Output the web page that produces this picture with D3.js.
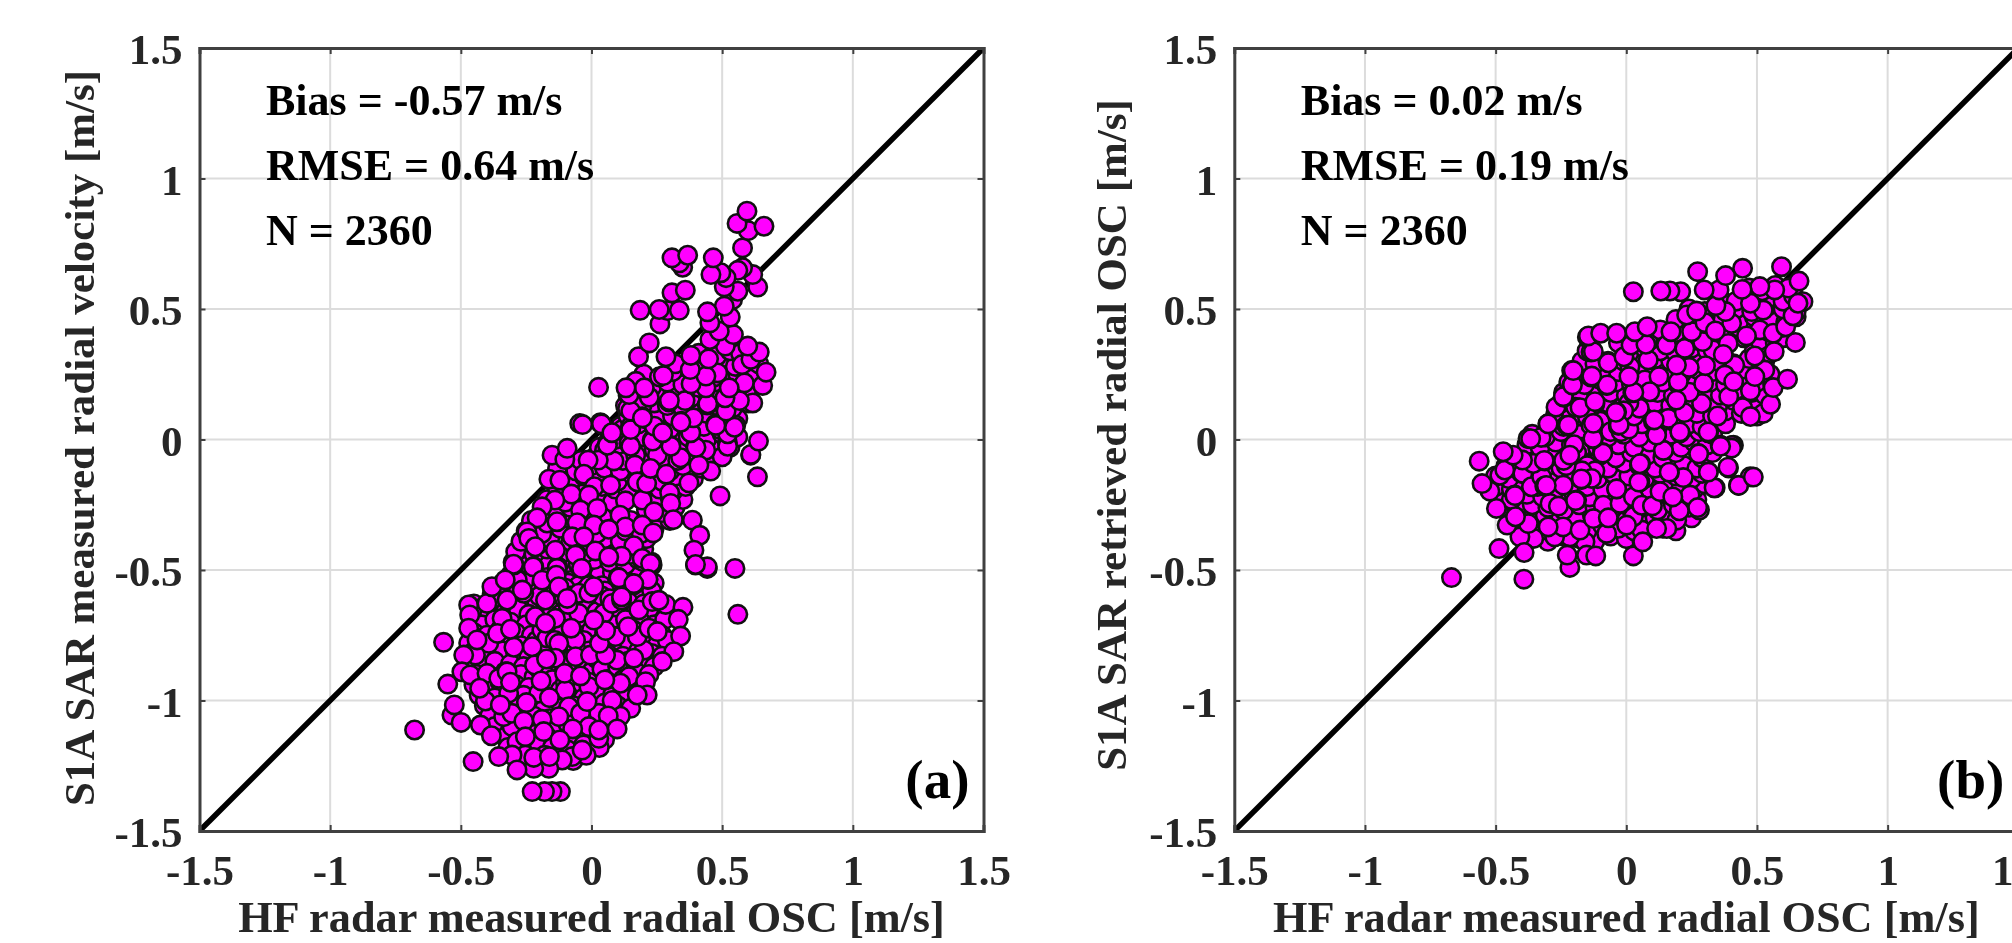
<!DOCTYPE html>
<html>
<head>
<meta charset="utf-8">
<script src="https://d3js.org/d3.v7.min.js"></script>
<style>
  html, body { margin: 0; padding: 0; background: #fff; overflow: hidden; }
  svg { filter: blur(0.6px); }
  text { font-family: "Liberation Serif", serif; font-weight: bold; }
</style>
</head>
<body>
<div id="chart"></div>
<script>
// values: [HF radar OSC, SAR value]
const ticks = [-1.5, -1, -0.5, 0, 0.5, 1, 1.5];
const statsA = ["Bias = -0.57 m/s", "RMSE = 0.64 m/s", "N = 2360"];
const statsB = ["Bias = 0.02 m/s", "RMSE = 0.19 m/s", "N = 2360"];

// points mostly hidden under others in the lower cluster of panel a
const blobA = [
[-0.31,-0.52],[-0.26,-0.51],[-0.2,-0.53],[-0.17,-0.52],[-0.07,-0.51],[-0.02,-0.53],[0.03,-0.52],[0.08,-0.51],[0.13,-0.53],[0.18,-0.52],
[-0.34,-0.55],[-0.3,-0.56],[-0.23,-0.54],[-0.19,-0.55],[-0.15,-0.56],[-0.08,-0.54],[-0.02,-0.55],[0.04,-0.56],[0.1,-0.54],[0.15,-0.55],[0.2,-0.56],[0.24,-0.55],
[-0.38,-0.59],[-0.33,-0.6],[-0.28,-0.58],[-0.21,-0.59],[-0.17,-0.6],[-0.13,-0.58],[-0.06,-0.59],[0,-0.6],[0.05,-0.58],[0.12,-0.59],[0.18,-0.6],[0.23,-0.58],
[-0.45,-0.63],[-0.41,-0.64],[-0.36,-0.62],[-0.31,-0.63],[-0.26,-0.64],[-0.21,-0.62],[-0.14,-0.63],[-0.08,-0.64],[-0.02,-0.62],[0.03,-0.63],[0.08,-0.64],[0.14,-0.62],[0.2,-0.63],[0.26,-0.64],
[-0.44,-0.66],[-0.39,-0.67],[-0.33,-0.66],[-0.28,-0.65],[-0.24,-0.67],[-0.18,-0.66],[-0.12,-0.65],[-0.06,-0.67],[0.01,-0.66],[0.06,-0.65],[0.11,-0.67],[0.17,-0.66],[0.22,-0.65],
[-0.46,-0.7],[-0.42,-0.71],[-0.37,-0.69],[-0.31,-0.7],[-0.25,-0.71],[-0.2,-0.69],[-0.15,-0.7],[-0.09,-0.71],[-0.04,-0.69],[0.02,-0.7],[0.08,-0.71],[0.13,-0.69],[0.19,-0.7],[0.24,-0.71],[0.28,-0.69],
[-0.45,-0.74],[-0.4,-0.75],[-0.35,-0.73],[-0.29,-0.74],[-0.23,-0.75],[-0.17,-0.73],[-0.11,-0.74],[-0.05,-0.75],[0,-0.73],[0.05,-0.74],[0.11,-0.75],[0.16,-0.73],[0.21,-0.74],[0.27,-0.75],
[-0.47,-0.78],[-0.42,-0.79],[-0.36,-0.77],[-0.31,-0.78],[-0.27,-0.79],[-0.21,-0.77],[-0.16,-0.78],[-0.09,-0.79],[-0.03,-0.77],[0.03,-0.78],[0.09,-0.79],[0.14,-0.77],[0.2,-0.78],[0.25,-0.79],[0.29,-0.77],
[-0.46,-0.82],[-0.4,-0.83],[-0.34,-0.81],[-0.29,-0.82],[-0.24,-0.83],[-0.18,-0.81],[-0.12,-0.82],[-0.07,-0.83],[-0.01,-0.81],[0.06,-0.82],[0.12,-0.83],[0.18,-0.81],[0.23,-0.82],[0.27,-0.83],
[-0.47,-0.86],[-0.42,-0.87],[-0.37,-0.85],[-0.31,-0.86],[-0.26,-0.87],[-0.2,-0.85],[-0.14,-0.86],[-0.09,-0.87],[-0.03,-0.85],[0.02,-0.86],[0.08,-0.87],[0.14,-0.85],[0.19,-0.86],[0.24,-0.87],
[-0.44,-0.9],[-0.38,-0.91],[-0.33,-0.89],[-0.27,-0.9],[-0.22,-0.91],[-0.16,-0.89],[-0.11,-0.9],[-0.05,-0.91],[0,-0.89],[0.06,-0.9],[0.11,-0.91],[0.17,-0.89],[0.22,-0.9],
[-0.45,-0.94],[-0.4,-0.95],[-0.35,-0.93],[-0.29,-0.94],[-0.24,-0.95],[-0.18,-0.93],[-0.13,-0.94],[-0.07,-0.95],[-0.01,-0.93],[0.05,-0.94],[0.09,-0.95],[0.15,-0.93],[0.2,-0.94],
[-0.43,-0.98],[-0.37,-0.99],[-0.31,-0.97],[-0.26,-0.98],[-0.2,-0.99],[-0.14,-0.97],[-0.09,-0.98],[-0.03,-0.99],[0.03,-0.97],[0.08,-0.98],[0.13,-0.99],[0.18,-0.97],
[-0.41,-1.02],[-0.36,-1.03],[-0.3,-1.01],[-0.24,-1.02],[-0.18,-1.03],[-0.12,-1.01],[-0.07,-1.02],[-0.01,-1.03],[0.05,-1.01],[0.1,-1.02],[0.15,-1.03],
[-0.39,-1.06],[-0.33,-1.07],[-0.27,-1.05],[-0.22,-1.06],[-0.16,-1.07],[-0.1,-1.05],[-0.05,-1.06],[0.01,-1.07],[0.06,-1.05],[0.11,-1.06],
[-0.37,-1.1],[-0.31,-1.11],[-0.26,-1.09],[-0.2,-1.1],[-0.14,-1.11],[-0.09,-1.09],[-0.03,-1.1],[0.03,-1.11],[0.07,-1.09],
[-0.33,-1.14],[-0.28,-1.15],[-0.22,-1.13],[-0.17,-1.14],[-0.11,-1.15],[-0.06,-1.13],[0,-1.14],[0.05,-1.15],
[-0.32,-1.18],[-0.26,-1.19],[-0.2,-1.17],[-0.15,-1.18],[-0.09,-1.19],[-0.03,-1.17],[0.03,-1.18],
[-0.29,-1.22],[-0.24,-1.23],[-0.18,-1.21],[-0.13,-1.22],[-0.07,-1.23],[-0.02,-1.21],
[-0.13,-0.57],[-0.14,-0.55],[-0.12,-0.53],[-0.11,-0.59],[-0.09,-0.6],[-0.16,-0.57],[-0.09,-0.55],[-0.07,-0.58],[-0.05,-0.56],[-0.04,-0.6]
];
// tightly stacked points that make the dark patches in panel a
const darkA = [
[-0.15,-0.6],[-0.14,-0.59],[-0.13,-0.61],[-0.12,-0.56],[-0.1,-0.57],[-0.11,-0.62],[-0.08,-0.6],[-0.06,-0.62],[-0.03,-0.58],[-0.02,-0.59],
[-0.01,-0.61],[0,-0.57],[-0.01,-0.56],[0.01,-0.59],[0.02,-0.62],[-0.17,-0.63],[-0.15,-0.66],[-0.12,-0.67],[-0.09,-0.66],[-0.2,-0.6],
[-0.05,-0.65],[-0.03,-0.64],[0.02,-0.66],[0.04,-0.6],[0.07,-0.61],[-0.19,-0.73],[-0.17,-0.76],[-0.14,-0.77],[-0.08,-0.77],[-0.06,-0.8],
[-0.2,-0.88],[-0.18,-0.9],[-0.15,-0.92],[-0.12,-0.96],[-0.1,-0.93],[0.02,-0.84],[0.04,-0.88],[0.06,-0.92],[0.1,-0.87],[0.12,-0.92]
];
// hidden points in the ridge of panel a
const ridgeA = [
[-0.3,-0.47],[-0.24,-0.48],[-0.18,-0.46],[-0.12,-0.47],[-0.05,-0.48],[0.01,-0.46],[0.07,-0.47],[0.13,-0.48],[0.18,-0.46],[0.23,-0.47],
[-0.29,-0.43],[-0.22,-0.44],[-0.17,-0.42],[-0.1,-0.43],[-0.03,-0.44],[0.03,-0.42],[0.1,-0.43],[0.15,-0.44],[0.2,-0.42],
[-0.27,-0.39],[-0.2,-0.4],[-0.16,-0.38],[-0.08,-0.39],[0,-0.4],[0.05,-0.38],[0.11,-0.39],[0.17,-0.4],[0.21,-0.38],
[-0.25,-0.35],[-0.19,-0.36],[-0.12,-0.34],[-0.06,-0.35],[0.02,-0.36],[0.07,-0.34],[0.13,-0.35],[0.19,-0.36],[0.24,-0.34],
[-0.23,-0.31],[-0.17,-0.32],[-0.1,-0.3],[-0.03,-0.31],[0.04,-0.32],[0.09,-0.3],[0.15,-0.31],[0.2,-0.32],[0.26,-0.3],[0.3,-0.31],
[-0.18,-0.27],[-0.13,-0.28],[-0.08,-0.26],[-0.01,-0.27],[0.05,-0.28],[0.1,-0.26],[0.21,-0.27],[0.27,-0.28],[0.32,-0.26],
[-0.17,-0.23],[-0.1,-0.24],[-0.05,-0.22],[0.02,-0.23],[0.08,-0.24],[0.15,-0.22],[0.2,-0.23],[0.25,-0.24],[0.3,-0.22],[0.35,-0.23],
[-0.13,-0.19],[-0.02,-0.2],[0.04,-0.18],[0.09,-0.19],[0.14,-0.2],[0.2,-0.18],[0.26,-0.19],[0.31,-0.2],[0.36,-0.18],
[-0.14,-0.15],[-0.08,-0.16],[-0.03,-0.14],[0.03,-0.15],[0.1,-0.16],[0.16,-0.14],[0.22,-0.15],[0.27,-0.16],[0.32,-0.14],[0.39,-0.15],
[-0.13,-0.11],[-0.06,-0.12],[0,-0.1],[0.05,-0.11],[0.11,-0.12],[0.17,-0.1],[0.23,-0.11],[0.3,-0.12],[0.35,-0.1],[0.42,-0.11],
[-0.1,-0.07],[-0.04,-0.08],[0.02,-0.06],[0.07,-0.07],[0.12,-0.08],[0.2,-0.06],[0.27,-0.07],[0.33,-0.08],[0.38,-0.06],[0.45,-0.07],
[0.03,-0.03],[0.05,-0.04],[0.1,-0.02],[0.18,-0.03],[0.24,-0.04],[0.3,-0.02],[0.35,-0.03],[0.42,-0.04],[0.48,-0.02],[0.53,-0.03],
[0.07,0.01],[0.09,0],[0.14,0.02],[0.2,0.01],[0.26,0],[0.32,0.02],[0.37,0.01],[0.44,0],[0.5,0.02],[0.56,0.01],
[0.11,0.05],[0.12,0.04],[0.18,0.06],[0.25,0.05],[0.3,0.04],[0.36,0.06],[0.43,0.05],[0.49,0.04],[0.54,0.06],
[0.14,0.09],[0.2,0.08],[0.26,0.1],[0.31,0.09],[0.38,0.08],[0.44,0.1],[0.5,0.09],[0.56,0.08],
[0.13,0.13],[0.17,0.12],[0.24,0.14],[0.29,0.13],[0.35,0.12],[0.41,0.14],[0.48,0.13],[0.54,0.12],[0.6,0.14],
[0.14,0.17],[0.19,0.16],[0.25,0.18],[0.31,0.17],[0.38,0.16],[0.44,0.18],[0.5,0.17],[0.56,0.16],[0.6,0.18],
[0.17,0.21],[0.23,0.2],[0.29,0.22],[0.35,0.21],[0.41,0.2],[0.47,0.22],[0.53,0.21],[0.6,0.2],
[0.2,0.25],[0.26,0.24],[0.31,0.26],[0.41,0.25],[0.47,0.24],[0.52,0.26],[0.56,0.25],[0.62,0.24],
[0.32,0.29],[0.4,0.28],[0.46,0.3],[0.52,0.29],[0.55,0.28],[0.6,0.3],[0.64,0.29],
[0.41,0.33],[0.48,0.32],[0.53,0.34],[0.57,0.33]
];
const lowerA = [
[-0.215,-0.679],[-0.176,-0.615],[-0.259,-0.589],[-0.284,-0.538],[-0.049,-0.589],[-0.01,-0.589],[0.047,-0.666],[0.079,-0.628],[0.181,-0.653],
[-0.049,-0.666],[-0.138,-0.685],[-0.176,-0.704],[0.092,-0.755],[-0.061,-0.768],[-0.125,-0.781],[-0.227,-0.794],[0.143,-0.909],[-0.01,-0.947],
[-0.1,-0.96],[-0.202,-0.972],[-0.317,-0.972],[-0.406,-1.002],[-0.087,-1.024],[0.028,-1.049],[0.079,-1],[-0.304,-1.1],[-0.125,-1.062],[-0.285,-1.158],
[-0.042,-1.049],[-0.336,-1.062],[-0.47,-0.634],[-0.466,-0.672],[-0.47,-0.723],[-0.393,-0.781],[-0.444,-0.826],[-0.489,-0.826],[-0.496,-0.89],
[-0.464,-0.902],[-0.4,-0.896],[-0.355,-0.915],[-0.323,-0.89],[-0.218,-0.864],[-0.138,-0.838],[-0.172,-0.841],[-0.061,-0.832],[0.097,-0.845],
[0.201,-0.807],[0.162,-0.838],[-0.004,-0.826],[0.054,-0.826],[0.031,-0.781],[0.175,-0.755],[0.22,-0.723],[0.252,-0.736],[0.232,-0.621],
[-0.4,-0.628],[-0.342,-0.685],[-0.36,-0.743],[-0.438,-0.768],[-0.297,-0.796],[-0.323,-0.615],[-0.381,-0.564],[-0.297,-0.481],[-0.221,-0.487],
[-0.13,-0.487],[-0.038,-0.494],[0.197,-0.468],[0.232,-0.481],[0.162,-0.557],[0.216,-0.536],[0.102,-0.528],[0.115,-0.615],[-0.125,-0.566],[-0.09,-0.632],
[0.398,-0.481],[0.443,-0.494],
[0.14,-0.717],[0.054,-0.732],[0.009,-0.692],[-0.078,-0.723],[-0.31,-0.727],
[0.284,-0.632],[0.35,-0.643],[0.332,-0.689],[0.341,-0.753],[0.315,-0.813],[0.271,-0.851],
[0.111,-0.934],[0.207,-0.928],[0.213,-0.979],[0.175,-0.979],
[-0.103,-0.896],[0.051,-0.921],[-0.042,-0.906],[-0.193,-0.925],[-0.31,-0.93],[-0.428,-0.953],
[-0.305,-1.049],[-0.349,-1.017],[-0.249,-1.008],[-0.017,-1.004],[-0.161,-0.989],
[-0.01,-1.1],[0.064,-1.059],[0.098,-1.109],[0.028,-1.145],[0.028,-1.113],
[-0.259,-1.079],[-0.189,-1.072],[-0.425,-1.094],[-0.383,-1.135],[-0.253,-1.139],[-0.183,-1.119],[-0.072,-1.109],[-0.121,-1.151],
[-0.074,-1.215],[-0.036,-1.19],[-0.112,-1.228],[-0.163,-1.26],[-0.221,-1.26],[-0.253,-1.209],[-0.221,-1.218],[-0.161,-1.215],
[-0.119,-1.349],[-0.151,-1.349],[-0.18,-1.349],[-0.227,-1.349],[-0.304,-1.209],[-0.285,-1.266],[-0.355,-1.215],[-0.453,-1.234],
[-0.534,-1.056],[-0.677,-1.113],[-0.499,-1.084],[-0.525,-1.017],[-0.55,-0.937],[-0.566,-0.777],[0.56,-0.67]
];
const middleA = [
[0.061,-0.015],[0.194,0.132],[0.138,0.119],[0.296,0.144],[0.443,0.132],[0.513,0.112],
[0.149,0.049],[0.194,0.087],[0.239,0.049],[0.271,0.027],[0.344,0.07],[0.379,0.029],[0.475,0.059],[0.52,0.027],[0.552,0.055],[0.52,-0.013],
[-0.045,0.061],[0.034,0.064],[0.075,0.027],
[0.609,-0.06],[0.635,-0.143],[0.5,-0.066],[0.456,-0.121],[0.398,-0.028],[0.437,-0.041],[0.341,-0.07],[0.299,-0.022],[0.252,-0.06],[0.232,-0.003],
[0.169,-0.06],[0.143,-0.015],[0.166,-0.098],[0.086,-0.082],[0.026,-0.079],[-0.013,-0.079],[-0.151,-0.06],[-0.102,-0.077],[-0.093,-0.034],
[-0.163,-0.152],[-0.121,-0.156],[-0.029,-0.133],[0.011,-0.181],[0.073,-0.175],[-0.077,-0.209],[-0.14,-0.232],[-0.189,-0.258],[-0.208,-0.3],[-0.132,-0.315],
[-0.01,-0.213],[-0.042,-0.271],[0.022,-0.264],[0.13,-0.235],[0.194,-0.232],[0.175,-0.162],[0.211,-0.169],[0.226,-0.111],[0.286,-0.133],[0.411,-0.098],[0.373,-0.166],
[0.299,-0.204],[0.303,-0.245],[0.239,-0.277],[0.109,-0.29],[-0.055,-0.319],[0.009,-0.328],[0.13,-0.335],[0.066,-0.344],[0.194,-0.328],[0.236,-0.358],[0.313,-0.307],
[0.386,-0.309],[0.414,-0.367],[0.392,-0.424],[0.443,-0.488],[0.398,-0.479],[0.549,-0.494],[0.492,-0.216],
[-0.247,-0.354],[-0.24,-0.379],[-0.215,-0.411],[-0.074,-0.373],[-0.029,-0.373],[-0.138,-0.424],[0.015,-0.427],[0.162,-0.407],[0.115,-0.447],[0.066,-0.45],[-0.061,-0.443],
[0.194,-0.456],[0.226,-0.475],[-0.298,-0.478],[-0.223,-0.488],[-0.189,-0.539],[-0.038,-0.494],[-0.132,-0.494],[0.105,-0.53],[0.216,-0.535],[0.162,-0.552],[-0.135,-0.52],[-0.125,-0.564],
[-0.33,-0.538],[-0.265,-0.577],[0.009,-0.564],[0.115,-0.603],[-0.093,-0.609],[0.258,-0.616]
];
const upperA = [
[0.61,-0.057],[0.639,-0.006],[0.521,-0.026],[0.4,-0.03],[0.304,-0.026],[0.234,-0.006],[0.15,-0.026],[0.061,-0.022],[-0.034,0.057],[0.038,0.06],
[0.078,0.026],[0.15,0.038],[0.24,0.051],[0.272,0.026],[0.38,0.026],[0.521,0.022],[0.547,0.047],[0.476,0.054],[0.39,0.083],[0.342,0.066],
[0.15,0.109],[0.195,0.083],[0.515,0.109],[0.144,0.172],[0.221,0.162],[0.358,0.149],[0.298,0.149],[0.617,0.14],[0.566,0.149],[0.445,0.137],[0.511,0.16],
[0.585,0.217],[0.527,0.198],[0.438,0.198],[0.381,0.213],[0.483,0.255],[0.438,0.243],[0.378,0.268],[0.275,0.245],[0.17,0.223],[0.202,0.198],[0.132,0.198],[0.027,0.2],
[0.655,0.207],[0.668,0.258],[0.448,0.309],[0.38,0.322],[0.576,0.287],[0.61,0.307],[0.642,0.335],[0.598,0.358],[0.512,0.358],[0.453,0.383],[0.543,0.402],[0.489,0.415],
[0.285,0.317],[0.18,0.317],[0.221,0.37],[0.531,0.469],[0.453,0.447],[0.54,0.536],[0.508,0.511],[0.444,0.489],[0.262,0.443],[0.291,0.494],[0.336,0.495],[0.259,0.498],[0.186,0.495],
[0.308,0.562],[0.359,0.572],[0.56,0.568],[0.508,0.585],[0.636,0.584],[0.617,0.632],[0.578,0.658],[0.56,0.648],[0.515,0.62],[0.495,0.639],[0.457,0.632],
[0.349,0.66],[0.336,0.677],[0.308,0.696],[0.368,0.706],[0.466,0.696],[0.578,0.734],[0.6,0.8],[0.66,0.817],[0.557,0.828],[0.595,0.875]
];

// hidden points of panel b
const blobB = [
[-0.38,-0.38],[-0.3,-0.39],[-0.24,-0.37],[-0.18,-0.38],[-0.12,-0.39],[-0.06,-0.37],[0,-0.38],[0.06,-0.39],
[-0.4,-0.34],[-0.33,-0.35],[-0.28,-0.33],[-0.21,-0.34],[-0.15,-0.35],[-0.09,-0.33],[-0.03,-0.34],[0.03,-0.35],[0.09,-0.33],[0.14,-0.34],[0.19,-0.35],
[-0.43,-0.3],[-0.37,-0.31],[-0.31,-0.29],[-0.25,-0.3],[-0.19,-0.31],[-0.13,-0.29],[-0.07,-0.3],[0,-0.31],[0.05,-0.29],[0.11,-0.3],[0.17,-0.31],[0.22,-0.29],[0.25,-0.3],
[-0.48,-0.26],[-0.42,-0.27],[-0.36,-0.25],[-0.3,-0.26],[-0.24,-0.27],[-0.18,-0.25],[-0.12,-0.26],[-0.06,-0.27],[0,-0.25],[0.06,-0.26],[0.12,-0.27],[0.18,-0.25],[0.24,-0.26],[0.28,-0.27],
[-0.49,-0.22],[-0.44,-0.23],[-0.38,-0.21],[-0.32,-0.22],[-0.26,-0.23],[-0.2,-0.21],[-0.14,-0.22],[-0.08,-0.23],[-0.02,-0.21],[0.04,-0.22],[0.1,-0.23],[0.16,-0.21],[0.21,-0.22],[0.27,-0.23],
[-0.5,-0.18],[-0.44,-0.19],[-0.39,-0.17],[-0.34,-0.18],[-0.27,-0.19],[-0.21,-0.17],[-0.15,-0.18],[-0.09,-0.19],[-0.03,-0.17],[0.03,-0.18],[0.09,-0.19],[0.15,-0.17],[0.21,-0.18],[0.26,-0.19],[0.3,-0.17],
[-0.5,-0.14],[-0.45,-0.15],[-0.4,-0.13],[-0.35,-0.14],[-0.29,-0.15],[-0.23,-0.13],[-0.17,-0.14],[-0.11,-0.15],[-0.05,-0.13],[0.01,-0.14],[0.07,-0.15],[0.13,-0.13],[0.19,-0.14],[0.25,-0.15],[0.29,-0.13],
[-0.46,-0.1],[-0.41,-0.11],[-0.37,-0.09],[-0.3,-0.1],[-0.25,-0.11],[-0.19,-0.09],[-0.13,-0.1],[-0.07,-0.11],[-0.01,-0.09],[0.05,-0.1],[0.11,-0.11],[0.17,-0.09],[0.22,-0.1],[0.27,-0.11],
[-0.45,-0.06],[-0.4,-0.07],[-0.34,-0.05],[-0.28,-0.06],[-0.22,-0.07],[-0.16,-0.05],[-0.1,-0.06],[-0.04,-0.07],[0.02,-0.05],[0.08,-0.06],[0.14,-0.07],[0.19,-0.05],[0.29,-0.07],[0.33,-0.05],
[-0.38,-0.02],[-0.33,-0.03],[-0.27,-0.01],[-0.21,-0.02],[-0.15,-0.03],[-0.09,-0.01],[-0.03,-0.02],[0.03,-0.03],[0.09,-0.01],[0.15,-0.02],[0.21,-0.03],[0.26,-0.01],[0.31,-0.02],
[-0.36,0.02],[-0.31,0.01],[-0.25,0.03],[-0.19,0.02],[-0.13,0.01],[-0.07,0.03],[-0.01,0.02],[0.05,0.01],[0.11,0.03],[0.17,0.02],[0.23,0.01],[0.28,0.03],[0.33,0.02],
[-0.3,0.06],[-0.24,0.05],[-0.18,0.07],[-0.12,0.06],[-0.06,0.05],[0,0.07],[0.06,0.06],[0.12,0.05],[0.18,0.07],[0.24,0.06],[0.29,0.05],[0.34,0.07],[0.38,0.06],
[-0.27,0.1],[-0.21,0.09],[-0.15,0.11],[-0.09,0.1],[-0.03,0.09],[0.03,0.11],[0.09,0.1],[0.15,0.09],[0.21,0.11],[0.27,0.1],[0.33,0.09],[0.38,0.11],[0.44,0.1],[0.5,0.09],
[-0.25,0.14],[-0.19,0.13],[-0.13,0.15],[-0.07,0.14],[-0.01,0.13],[0.05,0.15],[0.11,0.14],[0.17,0.13],[0.23,0.15],[0.29,0.14],[0.35,0.13],[0.41,0.15],[0.47,0.14],[0.5,0.13],
[-0.24,0.18],[-0.18,0.17],[-0.12,0.19],[-0.06,0.18],[0,0.17],[0.06,0.19],[0.12,0.18],[0.18,0.17],[0.24,0.19],[0.3,0.18],[0.36,0.17],[0.42,0.19],[0.48,0.18],[0.53,0.17],
[-0.22,0.22],[-0.16,0.21],[-0.1,0.23],[-0.04,0.22],[0.02,0.21],[0.08,0.23],[0.14,0.22],[0.2,0.21],[0.26,0.23],[0.32,0.22],[0.38,0.21],[0.44,0.23],[0.5,0.22],[0.56,0.21],
[-0.2,0.26],[-0.15,0.25],[-0.09,0.27],[-0.03,0.26],[0.03,0.25],[0.09,0.27],[0.15,0.26],[0.21,0.25],[0.27,0.27],[0.33,0.26],[0.39,0.25],[0.45,0.27],[0.51,0.26],[0.55,0.25],
[-0.17,0.3],[-0.12,0.29],[-0.07,0.3],[-0.01,0.3],[0.05,0.29],[0.11,0.31],[0.17,0.3],[0.23,0.29],[0.29,0.31],[0.35,0.3],[0.41,0.29],[0.47,0.31],[0.53,0.3],
[-0.15,0.34],[0.01,0.33],[0.07,0.35],[0.13,0.34],[0.19,0.33],[0.25,0.35],[0.31,0.34],[0.37,0.33],[0.49,0.34],[0.55,0.33],
[-0.14,0.38],[-0.03,0.37],[0.03,0.39],[0.09,0.38],[0.15,0.37],[0.21,0.39],[0.27,0.38],[0.33,0.37],[0.45,0.39],[0.51,0.38],[0.57,0.37],[0.6,0.39],
[0.13,0.42],[0.19,0.41],[0.25,0.43],[0.31,0.42],[0.37,0.41],[0.43,0.43],[0.49,0.42],[0.55,0.41],[0.6,0.43],
[0.19,0.46],[0.25,0.45],[0.31,0.47],[0.37,0.46],[0.43,0.45],[0.49,0.47],[0.55,0.46],[0.61,0.45],[0.65,0.47],
[0.24,0.5],[0.3,0.49],[0.36,0.51],[0.42,0.5],[0.48,0.49],[0.54,0.51],[0.6,0.5],[0.65,0.49],
[0.36,0.54],[0.42,0.53],[0.48,0.55],[0.54,0.54],[0.6,0.53],[0.64,0.55],
[0.47,0.58],[0.52,0.57],[0.57,0.59],[0.62,0.58],
[-0.13,0.01],[-0.14,0.02],[-0.12,-0.01],[-0.13,0.04],[-0.15,0.06],[-0.12,0.07],[-0.16,-0.02],[-0.1,0.05],[-0.17,0.08],[-0.13,0.09]
];
// tightly stacked points that make the dark patches in panel b
const darkB = [
[-0.14,0.03],[-0.13,0.05],[-0.12,0.03],[-0.15,0.01],[-0.14,-0.02],[-0.12,0.01],[-0.11,0.03],[-0.1,0.07],[-0.16,0.04],[-0.18,0.02],
[-0.17,-0.03],[-0.19,-0.05],[-0.2,-0.02],[-0.11,-0.03],[-0.09,-0.04],[-0.07,0.01],[-0.06,0.03],[-0.03,0.05],[-0.02,0.03],[0.01,0.04],
[0.02,0.11],[0.03,0.09],[0.05,0.12],[0.01,0.14],[-0.01,0.11],[-0.15,-0.1],[-0.12,-0.12],[-0.17,-0.12],[-0.23,-0.1],[-0.24,-0.08]
];
const lowerB = [
[-0.292,-0.245],[-0.396,-0.13],[-0.363,-0.181],[-0.088,-0.252],[-0.024,-0.245],[0.059,-0.347],[-0.075,-0.36],[-0.158,-0.392],[-0.216,-0.373],[-0.274,-0.373],
[-0.242,-0.335],[-0.299,-0.335],[-0.354,-0.379],[-0.407,-0.373],[-0.669,-0.529],[-0.392,-0.535],[-0.487,-0.418],[-0.391,-0.433],[-0.216,-0.49],[-0.226,-0.443],
[-0.152,-0.443],[-0.117,-0.446],[0.027,-0.446],[0.063,-0.392],[0.193,-0.309],[0.155,-0.341],[0.116,-0.341],[0.027,-0.296],[0.001,-0.328],[-0.177,-0.347],
[-0.126,-0.303],[-0.069,-0.3],[0.027,-0.22],[0.244,-0.213],[0.273,-0.261],[0.203,-0.273],[0.059,-0.252],[0.1,-0.254],[0.129,-0.2],[0.178,-0.22],
[0.474,-0.143],[0.429,-0.175],[0.34,-0.185],[0.391,-0.109],[0.314,-0.124],[0.218,-0.146],[0.165,-0.126],[0.276,-0.054],[0.41,-0.022],[0.359,-0.022],
[0.314,0.026],[0.206,0.026],[0.104,0.068],[-0.031,0.055],[0.116,0.02],[0.142,-0.041],[0.055,-0.092],[0.052,-0.162],[-0.037,-0.19],[-0.324,-0.143],
[-0.241,-0.175],[-0.26,-0.255],[-0.19,-0.232],[-0.133,-0.149],[-0.171,-0.153],[-0.216,-0.06],[-0.091,-0.05],[-0.126,0.004],[-0.229,0.055],[-0.326,0.008],
[-0.376,0.004],[-0.356,-0.092],[-0.312,-0.082],[-0.312,-0.178],[-0.427,-0.213],[-0.484,-0.137],[-0.465,-0.117],[-0.397,-0.079],[-0.433,-0.06],[-0.471,-0.047],
[-0.375,-0.322],[-0.456,-0.328],[-0.424,-0.296],[-0.497,-0.264],[-0.522,-0.198],[-0.552,-0.169],[-0.563,-0.083]
];
const middleB = [
[-0.426,-0.215],[-0.194,-0.234],[-0.037,-0.189],[-0.306,-0.176],[-0.172,-0.151],[0.048,-0.163],[0.052,-0.093],[0.142,-0.042],[0.164,-0.125],[0.43,-0.176],
[0.336,-0.185],[0.314,-0.125],[0.486,-0.144],[0.389,-0.106],[0.277,-0.055],[0.404,-0.023],[0.362,-0.023],[0.314,0.028],[0.194,0.149],[0.105,0.073],
[-0.149,0.392],[-0.135,0.335],[-0.209,0.264],[-0.269,0.124],[-0.194,0.124],[-0.12,0.137],[-0.149,0.086],[-0.135,0.054],[-0.09,-0.052],[-0.127,0.003],
[0.025,0.179],[-0.037,0.105],[-0.314,-0.08],[-0.366,0.003],[-0.299,0.06],[-0.224,0.054],[-0.075,0.207],[-0.135,0.239],[-0.239,0.162],[-0.209,0.207]
];
const upperB = [
[0.332,0.343],[0.39,0.368],[0.511,0.42],[0.562,0.407],[0.014,0.279],[-0.177,0.122],[-0.128,0.004],[-0.222,0.055],[-0.126,0.062],[0.415,0.285],
[0.53,0.266],[0.377,0.247],[0.288,0.138],[0.161,0.081],[0.116,0.017],[0.205,0.029],[0.403,-0.033],[0.361,-0.026],[0.313,0.029],[0.349,0.09],
[0.445,0.122],[0.524,0.1],[0.475,0.088],[0.552,0.135],[0.392,0.164],[0.475,0.186],[0.562,0.199],[0.617,0.231],[0.492,0.241],[0.411,0.222],
[-0.12,0.145],[-0.027,0.056],[-0.04,0.104],[0.107,0.075],[0.222,0.103],[0.241,0.181],[0.192,0.151],[0.199,0.222],[0.296,0.215],[0.154,0.362],
[0.224,0.349],[0.292,0.375],[0.371,0.326],[0.303,0.283],[0.241,0.276],[0.192,0.285],[0.071,0.228],[0.125,0.241],[0.09,0.183],[0.029,0.181],
[0.01,0.241],[-0.073,0.209],[-0.241,0.164],[-0.206,0.209],[-0.203,0.264],[-0.132,0.243],[-0.069,0.294],[-0.009,0.317],[0.084,0.305],[0.018,0.362],
[0.075,0.365],[-0.126,0.337],[-0.145,0.397],[-0.098,0.407],[-0.037,0.407],[0.033,0.413],[0.08,0.432],[0.171,0.413],[0.25,0.413],[0.301,0.448],
[0.403,0.445],[0.341,0.416],[0.46,0.397],[0.492,0.32],[0.566,0.337],[0.647,0.372],[0.61,0.432],[0.638,0.474],[0.676,0.528],[0.657,0.522],
[0.231,0.477],[0.269,0.492],[0.38,0.49],[0.343,0.513],[0.524,0.496],[0.475,0.522],[0.568,0.573],[0.511,0.586],[0.443,0.575],[0.355,0.573],
[0.298,0.573],[0.661,0.607],[0.594,0.662],[0.445,0.656],[0.38,0.628],[0.273,0.643],[0.208,0.566],[0.167,0.569],[0.132,0.569],[0.027,0.566]
];

const svg = d3.select("#chart").append("svg")
    .attr("width", 2012)
    .attr("height", 943);

function drawPanel(left, yLabel, yLabelX, yLabelY, stats, tag, points, id) {
    const x = d3.scaleLinear().domain([-1.5, 1.5]).range([left, left + 784]);
    const y = d3.scaleLinear().domain([-1.5, 1.5]).range([831, 48]);
    const g = svg.append("g");

    // grid
    g.append("g").selectAll("line").data(ticks.slice(1, -1)).enter().append("line")
        .attr("x1", d => x(d)).attr("x2", d => x(d))
        .attr("y1", y(-1.5)).attr("y2", y(1.5))
        .attr("stroke", "#dcdcdc").attr("stroke-width", 2);
    g.append("g").selectAll("line").data(ticks.slice(1, -1)).enter().append("line")
        .attr("y1", d => y(d)).attr("y2", d => y(d))
        .attr("x1", x(-1.5)).attr("x2", x(1.5))
        .attr("stroke", "#dcdcdc").attr("stroke-width", 2);

    // 1:1 line
    const clip = "clip" + id;
    g.append("clipPath").attr("id", clip).append("rect")
        .attr("x", x(-1.5)).attr("y", y(1.5))
        .attr("width", x(1.5) - x(-1.5)).attr("height", y(-1.5) - y(1.5));
    g.append("line")
        .attr("clip-path", "url(#" + clip + ")")
        .attr("x1", x(-1.5)).attr("y1", y(-1.5))
        .attr("x2", x(1.5)).attr("y2", y(1.5))
        .attr("stroke", "#000").attr("stroke-width", 5.5);

    // points
    g.append("g").selectAll("circle").data(points).enter().append("circle")
        .attr("cx", d => x(d[0]))
        .attr("cy", d => y(d[1]))
        .attr("r", 9.2)
        .attr("fill", "#ff00ff")
        .attr("stroke", "#111")
        .attr("stroke-width", 2.6);

    // axes, ticks inward
    const fmt = d => String(d);
    const bottom = g.append("g").attr("transform", "translate(0,831)")
        .call(d3.axisBottom(x).tickValues(ticks).tickSize(-6).tickPadding(23.5).tickFormat(fmt));
    const leftAxis = g.append("g").attr("transform", "translate(" + left + ",0)")
        .call(d3.axisLeft(y).tickValues(ticks).tickSize(-6).tickPadding(17).tickFormat(fmt));
    g.append("g").attr("transform", "translate(0,48)")
        .call(d3.axisTop(x).tickValues(ticks).tickSize(-6).tickFormat(""));
    g.append("g").attr("transform", "translate(" + (left + 784) + ",0)")
        .call(d3.axisRight(y).tickValues(ticks).tickSize(-6).tickFormat(""));
    g.selectAll(".domain").attr("stroke", "#404040").attr("stroke-width", 3);
    g.selectAll(".tick line").attr("stroke", "#404040").attr("stroke-width", 2);
    bottom.attr("font-family", null);
    leftAxis.attr("font-family", null);
    bottom.selectAll("text").attr("font-size", 43).attr("fill", "#262626");
    leftAxis.selectAll("text").attr("font-size", 43).attr("fill", "#262626").attr("dy", "0.37em");

    // axis titles
    g.append("text")
        .attr("x", left + 392).attr("y", 932)
        .attr("text-anchor", "middle")
        .attr("font-size", 44.3).attr("fill", "#262626")
        .text("HF radar measured radial OSC [m/s]");
    g.append("text")
        .attr("transform", "translate(" + yLabelX + "," + yLabelY + ") rotate(-90)")
        .attr("text-anchor", "middle")
        .attr("font-size", 43).attr("fill", "#262626")
        .text(yLabel);

    // stats
    g.append("g").selectAll("text").data(stats).enter().append("text")
        .attr("x", left + 66.5)
        .attr("y", (d, i) => 115 + i * 65)
        .attr("font-size", 44)
        .attr("fill", "#000")
        .text(d => d);

    g.append("text")
        .attr("x", left + 770).attr("y", 798)
        .attr("text-anchor", "end")
        .attr("font-size", 55)
        .attr("fill", "#000")
        .text(tag);
}

drawPanel(199.5, "S1A SAR measured radial velocity [m/s]", 94, 438, statsA, "(a)",
    blobA.concat(ridgeA, darkA, lowerA, middleA, upperA), "a");
drawPanel(1234.3, "S1A SAR retrieved radial OSC [m/s]", 1126, 435, statsB, "(b)",
    blobB.concat(darkB, lowerB, middleB, upperB), "b");
</script>
</body>
</html>
